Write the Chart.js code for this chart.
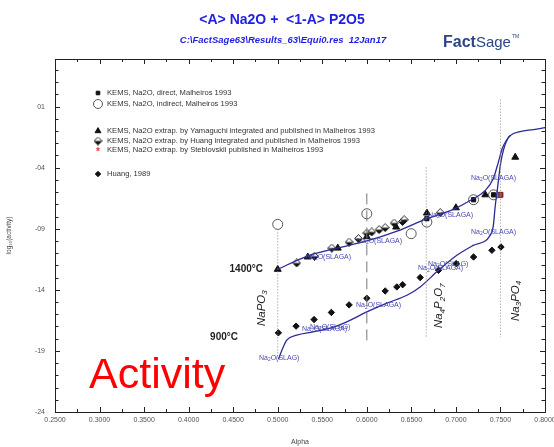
<!DOCTYPE html>
<html lang="en">
<head>
<meta charset="UTF-8">
<title>Na2O - P2O5 activity</title>
<style>
  body { margin: 0; background: #fff; }
  #wrap { width: 554px; height: 447px; }
</style>
</head>
<body>
<div id="wrap"><canvas id="chart" width="554" height="447"></canvas></div>
<script src="https://cdn.jsdelivr.net/npm/chart.js"></script>
<script>
// alpha = mole fraction Na2O, values are log10(activity of Na2O)

// calculated curves (FactSage)
const curve1400Alpha = [0.5, 0.5326, 0.5655, 0.6, 0.634, 0.6674, 0.697, 0.716, 0.733, 0.742, 0.7475, 0.752, 0.761, 0.772, 0.787, 0.800];
const curve1400LogA  = [-12.32, -11.25, -10.6, -10.0, -9.2, -8.17, -7.41, -6.68, -5.86, -4.88, -3.58, -2.43, -1.37, -1.04, -0.88, -0.72];
const curve900Alpha  = [0.5007, 0.5048, 0.5101, 0.5213, 0.5397, 0.5588, 0.5775, 0.6, 0.6225, 0.645, 0.6599, 0.6804, 0.7011, 0.7194, 0.7385, 0.7419, 0.7442, 0.7464, 0.7498, 0.7532, 0.7588, 0.761];
const curve900LogA   = [-19.69, -18.93, -18.12, -17.71, -17.44, -17.14, -16.62, -15.81, -15.09, -14.44, -13.76, -12.40, -11.17, -10.36, -9.54, -8.80, -7.09, -5.86, -3.82, -2.59, -1.53, -1.37];

// measured points
const directAlpha = [0.6674, 0.7198, 0.7423];
const directLogA  = [-8.17, -6.62, -6.22];
const indirectAlpha = [0.5, 0.6, 0.6498, 0.6674, 0.7198, 0.7423];
const indirectLogA  = [-8.64, -7.77, -9.40, -8.45, -6.62, -6.22];
const yamaguchiAlpha = [0.5, 0.5337, 0.5674, 0.6, 0.6329, 0.6674, 0.70, 0.733, 0.7666];
const yamaguchiLogA  = [-12.32, -11.31, -10.58, -9.65, -8.86, -7.71, -7.28, -6.22, -3.14];
const huangExtAlpha = [0.5213, 0.5412, 0.5607, 0.5801, 0.5906, 0.6, 0.6056, 0.6138, 0.6206, 0.6307, 0.64, 0.6419, 0.6824];
const huangExtLogA  = [-11.80, -11.25, -10.58, -10.09, -9.81, -9.35, -9.26, -9.07, -8.91, -8.53, -8.40, -8.26, -7.68];
const steblovskiiAlpha = [0.75];
const steblovskiiLogA  = [-6.22];
const huang1989Alpha = [0.5007, 0.5206, 0.5408, 0.5602, 0.5801, 0.6, 0.6206, 0.6337, 0.6402, 0.6599, 0.6804, 0.7003, 0.7198, 0.7404, 0.7506];
const huang1989LogA  = [-17.52, -16.97, -16.43, -15.85, -15.23, -14.69, -14.09, -13.76, -13.58, -12.99, -12.40, -11.85, -11.31, -10.76, -10.49];

// compound composition lines
const phaseAlpha  = [0.5, 0.6, 0.6667, 0.75];
const phaseTop    = [-9.05, -6.1, -3.98, 1.57];
const phaseBottom = [-19.3, -18.5, -17.95, -17.87];

// axis ticks
const xTickValues = Array.from({length: 23}, (_, i) => +(0.25 + i * 0.025).toFixed(3));
const yTickValues = Array.from({length: 29}, (_, i) => -24 + i);

const legendItems = [
  ['KEMS, Na2O, direct, Malheiros 1993', 'direct'],
  ['KEMS, Na2O, indirect, Malheiros 1993', 'indirect'],
  ['KEMS, Na2O extrap. by Yamaguchi integrated and published in Malheiros 1993', 'yamaguchi'],
  ['KEMS, Na2O extrap. by Huang integrated and published in Malheiros 1993', 'huangExt'],
  ['KEMS, Na2O extrap. by Steblovskii published in Malheiros 1993', 'steblovskii'],
  ['Huang, 1989', 'huang1989']
];

const pts = (xs, ys) => xs.map((x, i) => ({x: x, y: ys[i]}));
const FONT = 'Liberation Sans, Arial, sans-serif';
const CURVE = '#2a2a96';

// half filled diamond used for the Huang extrapolation
const halfDiamond = document.createElement('canvas');
halfDiamond.width = 9; halfDiamond.height = 9;
(function () {
  const c = halfDiamond.getContext('2d');
  c.fillStyle = '#fff';
  c.beginPath(); c.moveTo(4.5, 0.5); c.lineTo(8.5, 4.5); c.lineTo(0.5, 4.5); c.closePath(); c.fill();
  c.fillStyle = '#111';
  c.beginPath(); c.moveTo(0.5, 4.5); c.lineTo(8.5, 4.5); c.lineTo(4.5, 8.5); c.closePath(); c.fill();
  c.strokeStyle = '#222'; c.lineWidth = 1;
  c.beginPath(); c.moveTo(4.5, 0.5); c.lineTo(8.5, 4.5); c.lineTo(4.5, 8.5); c.lineTo(0.5, 4.5); c.closePath(); c.stroke();
})();

const markers = {
  direct:      {pointStyle: 'rect', pointRadius: 3, backgroundColor: '#111', borderColor: '#111', borderWidth: 1},
  indirect:    {pointStyle: 'circle', pointRadius: 5, backgroundColor: 'rgba(255,255,255,0)', borderColor: '#555', borderWidth: 1},
  yamaguchi:   {pointStyle: 'triangle', pointRadius: 4, backgroundColor: '#111', borderColor: '#111', borderWidth: 1},
  huangExt:    {pointStyle: halfDiamond, pointRadius: 4, backgroundColor: '#aaa', borderColor: '#222', borderWidth: 1},
  steblovskii: {pointStyle: 'rect', pointRadius: 3.5, backgroundColor: '#d42a2a', borderColor: '#552222', borderWidth: 1},
  huang1989:   {pointStyle: 'rectRot', pointRadius: 3.2, backgroundColor: '#111', borderColor: '#111', borderWidth: 1}
};

const phaseSets = phaseAlpha.map((a, i) => ({
  data: [{x: a, y: phaseTop[i]}, {x: a, y: phaseBottom[i]}],
  showLine: true, pointRadius: 0, borderColor: i === 1 ? '#777' : '#888',
  borderWidth: 1, borderDash: i === 1 ? [11, 6] : [1, 2]
}));

function scatterSet(xs, ys, key) {
  return Object.assign({data: pts(xs, ys), showLine: false}, markers[key]);
}

function drawChem(ctx, text, x, y, size, style, align) {
  // digits become subscripts
  const parts = [];
  for (const ch of text) {
    const sub = /\d/.test(ch);
    const last = parts[parts.length - 1];
    if (last && last.sub === sub) last.t += ch; else parts.push({t: ch, sub: sub});
  }
  let w = 0;
  parts.forEach(p => {
    ctx.font = `${style} ${p.sub ? size * 0.7 : size}px ${FONT}`;
    p.w = ctx.measureText(p.t).width;
    w += p.w;
  });
  let cx = align === 'center' ? x - w / 2 : x;
  ctx.textAlign = 'left';
  ctx.textBaseline = 'middle';
  parts.forEach(p => {
    ctx.font = `${style} ${p.sub ? size * 0.7 : size}px ${FONT}`;
    ctx.fillText(p.t, cx, p.sub ? y + size * 0.3 : y);
    cx += p.w;
  });
}

const framePlugin = {
  id: 'frame',
  beforeDatasetsDraw(chart) {
    const {ctx, chartArea: a, scales: {x, y}} = chart;
    ctx.save();
    ctx.strokeStyle = '#222';
    ctx.lineWidth = 1;
    ctx.strokeRect(a.left + 0.5, a.top + 0.5, a.right - a.left, a.bottom - a.top);
    ctx.beginPath();
    xTickValues.forEach((v, i) => {
      const px = Math.round(x.getPixelForValue(v)) + 0.5;
      const len = i % 2 === 0 ? 5 : 3;
      ctx.moveTo(px, a.bottom); ctx.lineTo(px, a.bottom - len);
      ctx.moveTo(px, a.top); ctx.lineTo(px, a.top + len);
    });
    yTickValues.forEach(v => {
      const py = Math.round(y.getPixelForValue(v)) + 0.5;
      const len = (v + 24) % 5 === 0 ? 5 : 3.5;
      ctx.moveTo(a.left, py); ctx.lineTo(a.left + len, py);
      ctx.moveTo(a.right, py); ctx.lineTo(a.right - len, py);
    });
    ctx.stroke();
    ctx.restore();
  }
};

const decorPlugin = {
  id: 'decor',
  afterDraw(chart) {
    const {ctx, scales: {x, y}} = chart;
    ctx.save();

    // headings
    ctx.fillStyle = '#1f1fe0';
    ctx.textAlign = 'center';
    ctx.textBaseline = 'middle';
    ctx.font = `bold 14px ${FONT}`;
    ctx.fillText('<A> Na2O +  <1-A> P2O5', 282, 20);
    ctx.font = `italic bold 9.5px ${FONT}`;
    ctx.fillText('C:\\FactSage63\\Results_63\\Equi0.res  12Jan17', 283, 40);

    // logo
    ctx.fillStyle = '#2d4585';
    ctx.textAlign = 'left';
    ctx.textBaseline = 'alphabetic';
    ctx.font = `bold 16px ${FONT}`;
    ctx.fillText('Fact', 443, 47);
    const fw = ctx.measureText('Fact').width;
    ctx.font = `15px ${FONT}`;
    ctx.fillText('Sage', 443 + fw, 47);
    const sw = ctx.measureText('Sage').width;
    ctx.font = `5px ${FONT}`;
    ctx.fillText('TM', 444 + fw + sw, 38);

    // legend
    legendItems.forEach(([label, key], i) => {
      const ly = [93, 104, 131, 141, 150, 174][i];
      const m = markers[key];
      ctx.fillStyle = m.backgroundColor;
      ctx.strokeStyle = m.borderColor;
      ctx.lineWidth = m.borderWidth;
      if (key === 'steblovskii') {
        ctx.fillStyle = '#e33';
        ctx.font = `bold 10px ${FONT}`;
        ctx.textAlign = 'center';
        ctx.textBaseline = 'middle';
        ctx.fillText('*', 98, ly + 2);
      } else {
        Chart.helpers.drawPoint(ctx, {pointStyle: m.pointStyle, radius: m.pointRadius * (key === 'indirect' ? 0.9 : 0.85), rotation: 0, borderWidth: m.borderWidth}, 98, ly);
      }
      ctx.fillStyle = '#333';
      ctx.font = `7.6px ${FONT}`;
      ctx.textAlign = 'left';
      ctx.textBaseline = 'middle';
      ctx.fillText(label, 107, ly);
    });

    // temperatures
    ctx.fillStyle = '#222';
    ctx.font = `bold 10px ${FONT}`;
    ctx.textAlign = 'right';
    ctx.fillText('1400°C', 263, 269);
    ctx.fillText('900°C', 238, 337);

    // calculated phase labels
    ctx.fillStyle = '#4848b0';
    [[306, 257, 'Na2O(SLAGA)'], [357, 241, 'Na2O(SLAGA)'], [428, 215, 'Na2O(SLAGA)'],
     [471, 178, 'Na2O(SLAGA)'], [471, 232, 'Na2O(SLAGA)'], [428, 264, 'Na2O(SLAG)'],
     [418, 268.5, 'Na2O(SLAGA)'], [356, 305.5, 'Na2O(SLAGA)'], [310, 327, 'Na2O(SLAG)'],
     [302, 329, 'Na2O(SLAGA)'], [259, 358, 'Na2O(SLAG)']].forEach(([lx, ly, t]) => {
      drawChem(ctx, t, lx, ly, 7, '', 'left');
    });

    // compounds
    ctx.fillStyle = '#222';
    [[0.5, -15.5, 'NaPO3', -16], [0.6667, -15.3, 'Na4P2O7', 13], [0.75, -14.9, 'Na3PO4', 15]].forEach(([a, v, t, dx]) => {
      ctx.save();
      ctx.translate(x.getPixelForValue(a) + dx, y.getPixelForValue(v));
      ctx.rotate(-Math.PI / 2);
      drawChem(ctx, t, 0, 0, 11.5, 'italic', 'center');
      ctx.restore();
    });

    // big label
    ctx.fillStyle = '#ff0000';
    ctx.font = `43px ${FONT}`;
    ctx.textAlign = 'left';
    ctx.textBaseline = 'alphabetic';
    ctx.fillText('Activity', 89, 388);

    ctx.restore();
  }
};

new Chart(document.getElementById('chart'), {
  type: 'scatter',
  data: {
    datasets: [
      ...phaseSets,
      {data: pts(curve1400Alpha, curve1400LogA), showLine: true, pointRadius: 0, borderColor: CURVE, borderWidth: 1.3, cubicInterpolationMode: 'monotone'},
      {data: pts(curve900Alpha, curve900LogA), showLine: true, pointRadius: 0, borderColor: CURVE, borderWidth: 1.3, cubicInterpolationMode: 'monotone'},
      scatterSet(indirectAlpha, indirectLogA, 'indirect'),
      scatterSet(huangExtAlpha, huangExtLogA, 'huangExt'),
      scatterSet(yamaguchiAlpha, yamaguchiLogA, 'yamaguchi'),
      scatterSet(directAlpha, directLogA, 'direct'),
      scatterSet(steblovskiiAlpha, steblovskiiLogA, 'steblovskii'),
      scatterSet(huang1989Alpha, huang1989LogA, 'huang1989')
    ]
  },
  options: {
    responsive: false,
    animation: false,
    devicePixelRatio: 1,
    layout: {padding: {left: 0, right: 9, top: 59, bottom: 0}},
    plugins: {legend: {display: false}, tooltip: {enabled: false}},
    scales: {
      x: {
        type: 'linear', min: 0.25, max: 0.8,
        afterBuildTicks: s => { s.ticks = xTickValues.map(v => ({value: v})); },
        afterFit: s => { s.height = 35; s.paddingLeft = 0; s.paddingRight = 0; },
        grid: {display: false, drawTicks: false},
        border: {display: false},
        ticks: {
          autoSkip: false, maxRotation: 0, padding: 4, color: '#555',
          font: {size: 7, family: FONT},
          callback: v => Math.round(v * 1000) % 50 === 0 ? v.toFixed(4) : ''
        },
        title: {display: true, text: 'Alpha', color: '#444', font: {size: 7, family: FONT}, padding: {top: 0, bottom: 1}}
      },
      y: {
        type: 'linear', min: -24, max: 4.9,
        afterBuildTicks: s => { s.ticks = yTickValues.map(v => ({value: v})); },
        afterFit: s => { s.width = 55; s.paddingTop = 0; s.paddingBottom = 0; },
        grid: {display: false, drawTicks: false},
        border: {display: false},
        ticks: {
          autoSkip: false, padding: 10, color: '#555',
          font: {size: 7, family: FONT},
          callback: v => (v + 24) % 5 === 0 ? (v < 0 ? '-' : '') + String(Math.abs(v)).padStart(2, '0') : ''
        },
        title: {display: true, text: 'log\u2081\u2080(activity)', color: '#444', font: {size: 6.5, family: FONT}, padding: {top: 5, bottom: 0}}
      }
    }
  },
  plugins: [framePlugin, decorPlugin]
});
</script>
</body>
</html>
